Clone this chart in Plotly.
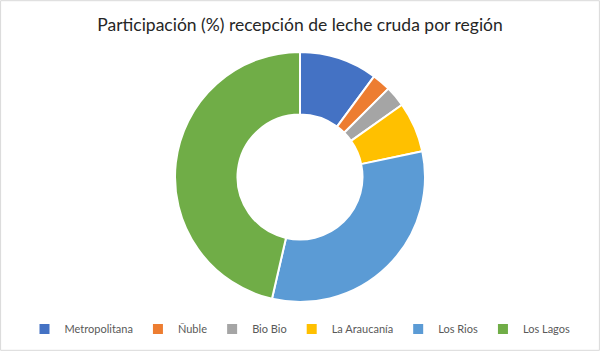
import plotly.graph_objects as go

regions = ["Metropolitana", "Ñuble", "Bio Bio", "La Araucanía", "Los Rios", "Los Lagos"]
shares = [10.1, 2.4, 2.7, 6.5, 31.9, 46.4]
colors = ["#4472C4", "#ED7D31", "#A5A5A5", "#FFC000", "#5B9BD5", "#70AD47"]
title = "Participación (%) recepción de leche cruda por región"

fig = go.Figure(go.Pie(
    labels=regions,
    values=shares,
    hole=0.5,
    sort=False,
    direction="clockwise",
    rotation=0,
    textinfo="none",
    hoverinfo="label+percent",
    marker=dict(colors=colors, line=dict(color="white", width=2)),
    domain=dict(x=[175/600, 425/600], y=[1-302/351, 1-52/351]),
))

fig.update_layout(
    width=600, height=351,
    margin=dict(l=0, r=0, t=0, b=0),
    paper_bgcolor="white",
    title=dict(text=title, x=0.5, xanchor="center", y=1-25/351, yanchor="middle",
               font=dict(family="Lato, sans-serif", size=17.5, color="#262626")),
    legend=dict(orientation="h", x=0.5, xanchor="center", y=1-329/351, yanchor="middle",
                font=dict(family="Lato, sans-serif", size=11, color="#595959"),
                itemwidth=30, traceorder="normal"),
    shapes=[dict(type="rect", xref="paper", yref="paper", x0=0.001, x1=0.999, y0=0.002, y1=0.998,
                 line=dict(color="#D9D9D9", width=1))],
)

fig.write_html("out.html")
